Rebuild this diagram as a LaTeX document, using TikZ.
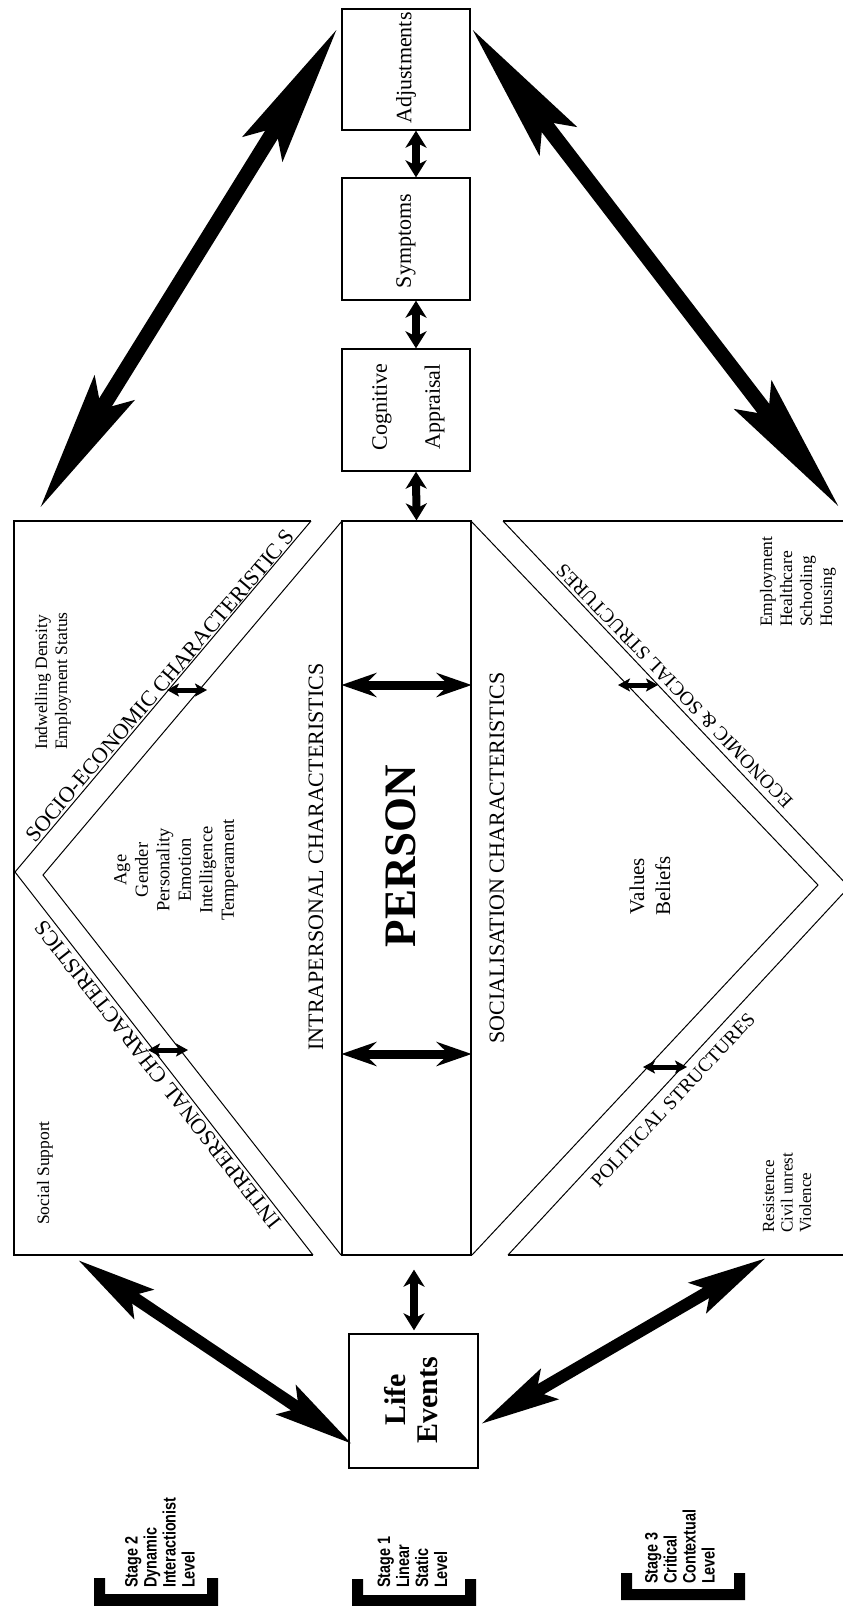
\documentclass[tikz,border=0pt]{standalone}
\usepackage{fontspec}
\setmainfont{Liberation Serif}
\newfontfamily\stagefont[FakeStretch=0.8]{Liberation Sans}
\usetikzlibrary{arrows.meta}
\tikzset{
  box/.style={draw, line width=1.3pt, inner sep=0pt},
  frameline/.style={line width=1.2pt},
  bandline/.style={line width=1pt},
  txt/.style={rotate=90, inner sep=0pt},
  bigarrow/.style={line width=15pt, {Stealth[length=140pt,width=46pt,inset=24pt]}-{Stealth[length=140pt,width=46pt,inset=24pt]}},
  lowarrow/.style={line width=12pt, {Stealth[length=78pt,width=34pt,inset=14pt]}-{Stealth[length=78pt,width=34pt,inset=14pt]}},
  colarrow/.style={line width=8pt, {Stealth[length=17pt,width=21pt,inset=5pt]}-{Stealth[length=17pt,width=21pt,inset=5pt]}},
  personarrow/.style={line width=9pt, {Stealth[length=35pt,width=24pt,inset=12pt]}-{Stealth[length=35pt,width=24pt,inset=12pt]}},
  bandarrow/.style={line width=5pt, {Stealth[length=12pt,width=13pt,inset=3pt]}-{Stealth[length=12pt,width=13pt,inset=3pt]}},
  bandlabel/.style={inner sep=0pt, font=\fontsize{22}{26}\selectfont},
  smalllist/.style={txt, align=left, anchor=west, font=\fontsize{17.5}{20}\selectfont},
  stagetxt/.style={txt, align=left, anchor=west, font=\stagefont\bfseries\fontsize{18}{19}\selectfont},
}
\begin{document}
\begin{tikzpicture}[x=1pt,y=-1pt]
\useasboundingbox (0,0) rectangle (843,1606);
\clip (0,0) rectangle (843,1606);

% central column boxes
\node[box, minimum width=128pt, minimum height=121pt] (adj) at (406,69.5) {};
\node[box, minimum width=128pt, minimum height=122pt] (sym) at (406,239) {};
\node[box, minimum width=128pt, minimum height=122pt] (cog) at (406,410) {};
\node[box, minimum width=129pt, minimum height=734pt] (person) at (406.5,888) {};
\node[box, minimum width=129pt, minimum height=134pt] (life) at (413.5,1401) {};

\node[txt, font=\fontsize{22}{26}\selectfont] (adjt) at (406,68) {Adjustments};
\node[txt, font=\fontsize{22}{26}\selectfont] (symt) at (406,241) {Symptoms};
\node[txt, align=center, font=\fontsize{22}{53}\selectfont] (cogt) at (408.5,407) {Cognitive\\Appraisal};
\node[txt, font=\fontsize{45}{50}\selectfont\bfseries] (pert) at (401,856) {PERSON};
\node[txt, align=center, font=\fontsize{30}{32}\selectfont\bfseries] (lifet) at (411,1400) {Life\\Events};

% frame of left and right regions
\draw[frameline] (311,521) -- (14,521) -- (14,1255) -- (313,1255);
\draw[frameline] (860,521) -- (503,521);
\draw[frameline] (508,1255) -- (860,1255);
% bands
\draw[bandline] (311,521) -- (15,872) -- (313,1255);
\draw[bandline] (342,521) -- (43,875) -- (341,1255);
\draw[bandline] (471,521) -- (818,885) -- (472,1255);
\draw[bandline] (503,521) -- (849,887) -- (508,1255);

% column arrows
\draw[colarrow] ([xshift=10pt]adj.south) -- ([xshift=10pt]sym.north);
\draw[colarrow] ([xshift=10pt]sym.south) -- ([xshift=10pt]cog.north);
\draw[colarrow] ([xshift=10pt]cog.south) -- ([xshift=10pt]person.north);
\draw[colarrow, shorten <=14pt, shorten >=3pt] ([xshift=7.5pt]person.south) -- ([xshift=0.5pt]life.north);

% arrows inside PERSON
\draw[personarrow] ([yshift=203pt]person.west) -- ([yshift=203pt]person.east);
\draw[personarrow] ([yshift=-166pt]person.west) -- ([yshift=-166pt]person.east);

% big arrows
\coordinate (adjL) at (337,29);
\coordinate (adjR) at (472,29);
\coordinate (leftTop) at (40,508);
\coordinate (rightTop) at (839,507);
\coordinate (leftBot) at (78,1260);
\coordinate (rightBot) at (766,1258);
\coordinate (lifeL) at (352,1444);
\coordinate (lifeR) at (481,1424);
\draw[bigarrow] (adjL) -- (leftTop);
\draw[bigarrow] (adjR) -- (rightTop);
\draw[lowarrow] (leftBot) -- (lifeL);
\draw[lowarrow] (rightBot) -- (lifeR);

% band arrows
\coordinate (b1a) at (167,690); \coordinate (b1b) at (207,690);
\coordinate (b2a) at (148,1050); \coordinate (b2b) at (188,1050);
\coordinate (b3a) at (618,685); \coordinate (b3b) at (658,685);
\coordinate (b4a) at (643,1067); \coordinate (b4b) at (687,1067);
\draw[bandarrow] (b1a) -- (b1b);
\draw[bandarrow] (b2a) -- (b2b);
\draw[bandarrow] (b3a) -- (b3b);
\draw[bandarrow] (b4a) -- (b4b);

% band labels
\node[bandlabel, rotate=49.6] (socio) at (160,686) {SOCIO-ECONOMIC CHARACTERISTIC S};
\node[bandlabel, rotate=128.2] (inter) at (158,1074.5) {INTERPERSONAL CHARACTERISTICS};
\node[bandlabel, rotate=134, font=\fontsize{19.6}{24}\selectfont] (econ) at (674.5,686) {ECONOMIC \& SOCIAL STRUCTURES};
\node[bandlabel, rotate=47, font=\fontsize{19.5}{24}\selectfont] (polit) at (673,1100) {POLITICAL STRUCTURES};
\node[txt, font=\fontsize{22}{26}\selectfont] (intra) at (316,857) {INTRAPERSONAL CHARACTERISTICS};
\node[txt, font=\fontsize{22}{26}\selectfont] (social) at (497,858) {SOCIALISATION CHARACTERISTICS};

% lists
\node[txt, align=center, font=\fontsize{18.5}{21.5}\selectfont] (aget) at (176,870) {Age\\Gender\\Personality\\Emotion\\Intelligence\\Temperament};
\node[txt, align=center, font=\fontsize{21}{26}\selectfont] (valt) at (650,886) {Values\\Beliefs};
\node[smalllist] (indw) at (53,750) {Indwelling Density\\Employment Status};
\node[smalllist] (socs) at (45,1225) {Social Support};
\node[smalllist] (empl) at (798,627) {Employment\\Healthcare\\Schooling\\Housing};
\node[smalllist, font=\fontsize{17}{18.5}\selectfont] (resi) at (787,1233) {Resistence\\Civil unrest\\Violence};

% stage brackets
\fill (94,1578) -- (105,1578) -- (105,1594) -- (207,1594) -- (207,1578) -- (218,1578) -- (218,1610) -- (94,1610) -- cycle;
\fill (352,1579) -- (363,1579) -- (363,1595) -- (465,1595) -- (465,1579) -- (476,1579) -- (476,1610) -- (352,1610) -- cycle;
\fill (621,1573) -- (632,1573) -- (632,1589) -- (734,1589) -- (734,1573) -- (745,1573) -- (745,1600) -- (621,1600) -- cycle;
\node[stagetxt] (st2) at (160,1588) {Stage 2\\Dynamic\\Interactionist\\Level};
\node[stagetxt] (st1) at (412.5,1588) {Stage 1\\Linear\\Static\\Level};
\node[stagetxt] (st3) at (680,1584) {Stage 3\\Critical\\Contextual\\Level};
\end{tikzpicture}
\end{document}
